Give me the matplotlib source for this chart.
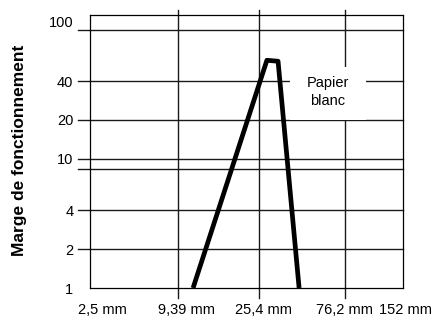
import numpy as np
import matplotlib
matplotlib.use("Agg")
import matplotlib.pyplot as plt
import matplotlib.transforms as mtransforms
from matplotlib.patches import Rectangle

plt.rcParams['font.family'] = ['Liberation Sans', 'DejaVu Sans']

# ---- data ----
x_tick_values = [2.5, 9.39, 25.4, 76.2, 152]
x_tick_labels = ["2,5 mm", "9,39 mm", "25,4 mm", "76,2 mm", "152 mm"]
y_tick_values = [1, 2, 4, 10, 20, 40, 100]
y_tick_labels = ["1", "2", "4", "10", "20", "40", "100"]
y_extra_grid = [8.4]          # unlabeled grid line just below 10
curve_x = [11.3, 28.1, 32.4, 42.4]   # distance (mm)
curve_y = [1.0, 58, 57, 1.0]         # operating margin
annotation = "Papier\nblanc"

# ---- schematic (non-uniform) log distance axis of the original ----
LX = np.log10(np.array(x_tick_values))
PX = np.array([0, 88, 169, 255, 313]) / 313.0
s0 = (PX[1] - PX[0]) / (LX[1] - LX[0])
s1 = (PX[-1] - PX[-2]) / (LX[-1] - LX[-2])

def fwd(v):
    lv = np.log10(np.clip(np.asarray(v, dtype=float), 1e-12, None))
    out = np.interp(lv, LX, PX)
    out = np.where(lv < LX[0], PX[0] + (lv - LX[0]) * s0, out)
    out = np.where(lv > LX[-1], PX[-1] + (lv - LX[-1]) * s1, out)
    return out

def inv(p):
    p = np.asarray(p, dtype=float)
    lv = np.interp(p, PX, LX)
    lv = np.where(p < PX[0], LX[0] + (p - PX[0]) / s0, lv)
    lv = np.where(p > PX[-1], LX[-1] + (p - PX[-1]) / s1, lv)
    return 10 ** lv

fig = plt.figure(figsize=(4.36, 3.2), dpi=100)
ax = fig.add_axes([90 / 436, 1 - 288 / 320, 313 / 436, 273 / 320])
ax.set_xscale('function', functions=(fwd, inv))
ax.set_yscale('log')
ax.set_xlim(x_tick_values[0], x_tick_values[-1])
ax.set_ylim(1, 130)

ax.set_xticks(x_tick_values)
ax.set_xticklabels(x_tick_labels)
ax.set_yticks(y_tick_values)
ax.set_yticklabels(y_tick_labels)
ax.minorticks_off()
ax.tick_params(axis='both', length=0, labelsize=10.5, colors='black')
ax.tick_params(axis='y', pad=12)
ax.tick_params(axis='x', pad=10.5)

# small label nudges as in the original layout (pixels)
x_nudges = [12, 8, 4, -1, 2]
for lab, dx in zip(ax.get_xticklabels(), x_nudges):
    lab.set_transform(lab.get_transform() +
                      mtransforms.ScaledTranslation(dx / 100, 0, fig.dpi_scale_trans))
ylabs = ax.get_yticklabels()
ylabs[-1].set_transform(ylabs[-1].get_transform() +
                        mtransforms.ScaledTranslation(0, 8 / 100, fig.dpi_scale_trans))

for s in ax.spines.values():
    s.set_color('black')
    s.set_linewidth(0.9)

# horizontal grid lines (extend left past the frame)
for v in list(y_tick_values[1:]) + y_extra_grid:
    ax.axhline(v, xmin=-12 / 313, xmax=1, color='#1a1a1a', lw=1.0,
               clip_on=False, zorder=1)
# vertical grid lines (extend above and below the frame)
for v in x_tick_values[1:-1]:
    ax.axvline(v, ymin=-10 / 273, ymax=1 + 5 / 273, color='#1a1a1a', lw=1.0,
               clip_on=False, zorder=1)

# white label box
ax.add_patch(Rectangle((200 / 313, 168 / 273), 76 / 313, 53 / 273,
                       transform=ax.transAxes, facecolor='white',
                       edgecolor='none', zorder=2))
ax.text(238 / 313, 196 / 273, annotation, transform=ax.transAxes,
        ha='center', va='center', fontsize=10.5, linespacing=1.35, zorder=3)

ax.plot(curve_x, curve_y, color='black', lw=3.4, solid_joinstyle='round',
        solid_capstyle='butt', zorder=4)

fig.text(20 / 436, 1 - 150 / 320, "Marge de fonctionnement", rotation=90,
         ha='center', va='center', fontsize=12.5, fontweight='bold')

fig.savefig("out.png", dpi=100, facecolor='white')
